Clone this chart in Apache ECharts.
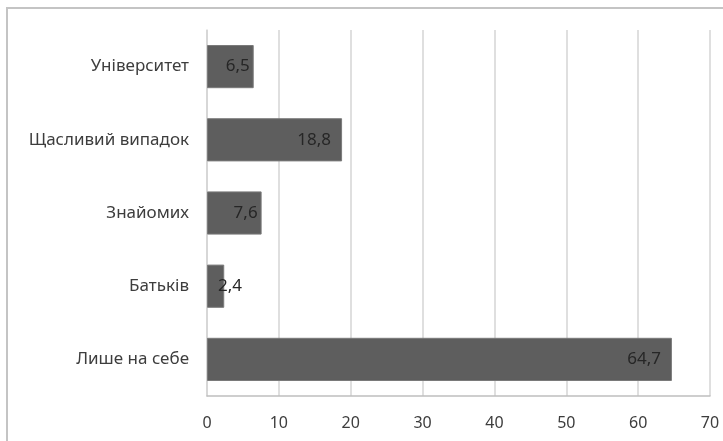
<!DOCTYPE html>
<html>
<head>
<meta charset="utf-8">
<script src="https://cdn.jsdelivr.net/npm/echarts@6/dist/echarts.min.js"></script>
<style>
html,body{margin:0;padding:0;background:#fff;}
#main{width:723px;height:441px;}
</style>
</head>
<body>
<div id="main"></div>
<script>
var categories = ['Університет', 'Щасливий випадок', 'Знайомих', 'Батьків', 'Лише на себе'];
var values = [6.5, 18.8, 7.6, 2.4, 64.7];
var xTicks = [0, 10, 20, 30, 40, 50, 60, 70];

var FONT = 'Noto Sans';

function fmt(v) { return String(v).replace('.', ','); }

var seriesData = values.map(function (v) {
  var lbl;
  if (v < 5) lbl = { position: 'insideLeft', distance: 11 };
  else if (v < 10) lbl = { position: 'insideRight', distance: 4 };
  else lbl = { position: 'insideRight', distance: 11 };
  return { value: v, label: lbl };
});

var chart = echarts.init(document.getElementById('main'), null, { renderer: 'canvas' });
chart.setOption({
  animation: false,
  backgroundColor: '#ffffff',
  graphic: [{
    type: 'rect',
    shape: { x: 7, y: 8, width: 900, height: 600 },
    style: { fill: 'none', stroke: '#c4c4c4', lineWidth: 2 },
    silent: true,
    z: -10
  }],
  grid: { left: 207, right: 13, top: 30, bottom: 45, containLabel: false },
  xAxis: {
    type: 'value',
    min: xTicks[0],
    max: xTicks[xTicks.length - 1],
    interval: xTicks[1] - xTicks[0],
    axisLine: { show: true, lineStyle: { color: '#bfbfbf', width: 1.5 } },
    axisTick: { show: false },
    splitLine: { show: true, lineStyle: { color: '#d4d4d4', width: 1.5 } },
    axisLabel: { color: '#3d3d3d', fontFamily: FONT, fontSize: 16, margin: 19 }
  },
  yAxis: {
    type: 'category',
    data: categories,
    inverse: true,
    axisLine: { show: true, lineStyle: { color: '#d4d4d4', width: 1.5 } },
    axisTick: { show: false },
    axisLabel: { color: '#3d3d3d', fontFamily: FONT, fontSize: 17, margin: 18 }
  },
  series: [{
    type: 'bar',
    data: seriesData,
    barCategoryGap: '41%',
    itemStyle: { color: '#5e5e5e', borderColor: '#7a7a7a', borderWidth: 1 },
    label: {
      show: true,
      color: '#262626',
      fontFamily: FONT,
      fontSize: 17,
      formatter: function (p) { return fmt(p.value); }
    }
  }]
});
</script>
</body>
</html>
